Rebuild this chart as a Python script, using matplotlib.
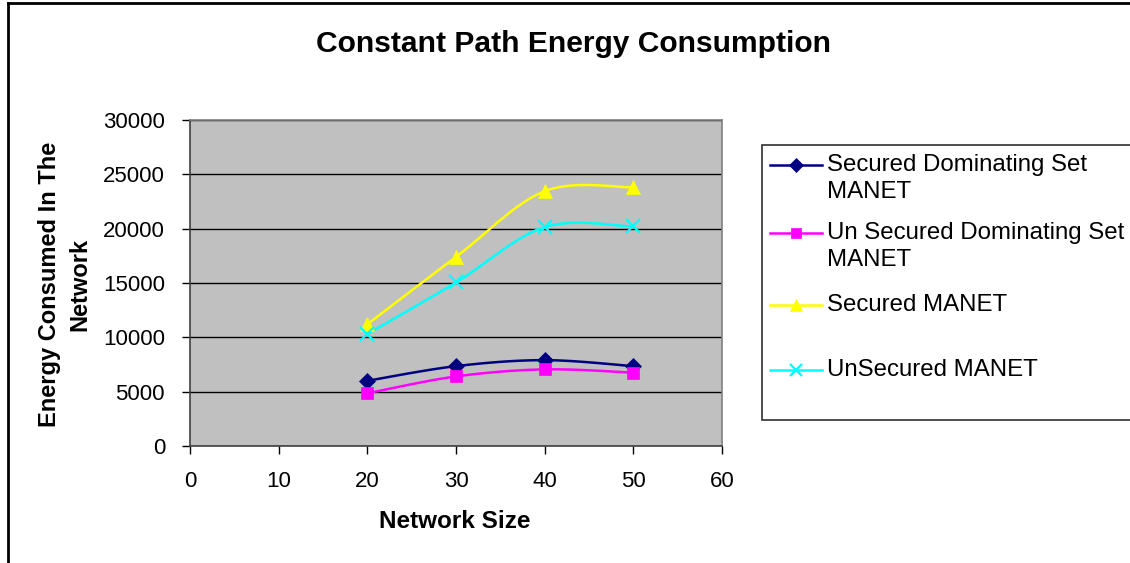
import numpy as np
import matplotlib
matplotlib.use("Agg")
import matplotlib.pyplot as plt
from matplotlib.lines import Line2D

# ---- data ----
network_size = [20, 30, 40, 50]
secured_ds = [6000, 7350, 7900, 7350]
unsecured_ds = [4850, 6400, 7050, 6750]
secured_manet = [11200, 17400, 23450, 23800]
unsecured_manet = [10300, 15050, 20150, 20200]

series_labels = ["Secured Dominating Set\nMANET",
                 "Un Secured Dominating Set\nMANET",
                 "Secured MANET",
                 "UnSecured MANET"]
series_values = [secured_ds, unsecured_ds, secured_manet, unsecured_manet]
series_colors = ["#000080", "#FF00FF", "#FFFF00", "#00FFFF"]
series_markers = ["D", "s", "^", "x"]
series_msize = [8, 8, 10, 10]

x_ticks = [0, 10, 20, 30, 40, 50, 60]
y_ticks = [0, 5000, 10000, 15000, 20000, 25000, 30000]

plt.rcParams['font.family'] = ['Liberation Sans', 'DejaVu Sans']


def smooth(x, y, n=40):
    """Excel-style smoothed line (Catmull-Rom Bezier) through the data points."""
    x = np.asarray(x, float)
    y = np.asarray(y, float)
    px = np.concatenate([[x[0]], x, [x[-1]]])
    py = np.concatenate([[y[0]], y, [y[-1]]])
    xs, ys = [], []
    t = np.linspace(0, 1, n)
    for i in range(1, len(px) - 2):
        p0 = np.array([px[i], py[i]])
        p3 = np.array([px[i + 1], py[i + 1]])
        c1 = p0 + (np.array([px[i + 1], py[i + 1]]) - np.array([px[i - 1], py[i - 1]])) / 6
        c2 = p3 - (np.array([px[i + 2], py[i + 2]]) - np.array([px[i], py[i]])) / 6
        b = ((1 - t) ** 3)[:, None] * p0 + (3 * (1 - t) ** 2 * t)[:, None] * c1 \
            + (3 * (1 - t) * t ** 2)[:, None] * c2 + (t ** 3)[:, None] * p3
        xs.extend(b[:, 0])
        ys.extend(b[:, 1])
    return np.array(xs), np.array(ys)


fig = plt.figure(figsize=(11.30, 5.63), dpi=100)
fig.patch.set_facecolor("white")
ax = fig.add_axes([190 / 1130, 1 - 446 / 563, 532 / 1130, 326 / 563])
ax.set_facecolor("#C0C0C0")

for vals, col, mk, ms in zip(series_values, series_colors, series_markers, series_msize):
    sx, sy = smooth(network_size, vals)
    ax.plot(sx, sy, color=col, lw=1.8, zorder=3)
    ax.plot(network_size, vals, linestyle="none", marker=mk, color=col,
            markersize=ms, markeredgewidth=1.6 if mk == "x" else 0.5, zorder=4)

ax.set_xlim(0, 60)
ax.set_ylim(0, 30000)
ax.set_xticks(x_ticks)
ax.set_yticks(y_ticks)
ax.set_xticklabels([str(v) for v in x_ticks])
ax.set_yticklabels([str(v) for v in y_ticks])
ax.tick_params(axis="both", direction="out", length=6, width=1,
               color="black")
ax.tick_params(axis="x", labelsize=16, pad=12)
ax.tick_params(axis="y", labelsize=16, pad=12)
ax.yaxis.grid(True, color="black", lw=1)
ax.set_axisbelow(True)
for s in ["left", "bottom"]:
    ax.spines[s].set_color("#404040")
    ax.spines[s].set_linewidth(1.2)
for s in ["right", "top"]:
    ax.spines[s].set_color("#808080")
    ax.spines[s].set_linewidth(1.2)

fig.text(574 / 1130, 1 - 44 / 563, "Constant Path Energy Consumption",
         ha="center", va="center", fontsize=21.6, fontweight="bold")
fig.text(455 / 1130, 1 - 522 / 563, "Network Size",
         ha="center", va="center", fontsize=17.5, fontweight="bold")
fig.text(65 / 1130, 1 - 284 / 563, "Energy Consumed In The\nNetwork",
         ha="center", va="center", rotation=90, fontsize=17, fontweight="bold",
         linespacing=1.4)

# figure frame (left and top edges)
fig.add_artist(Line2D([8 / 1130, 8 / 1130], [0, 1 - 3 / 563], color="black", lw=2,
                      transform=fig.transFigure))
fig.add_artist(Line2D([8 / 1130, 1], [1 - 3 / 563, 1 - 3 / 563], color="black", lw=2,
                      transform=fig.transFigure))

# legend box
lx0, ly0, lx1, ly1 = 762, 145, 1135, 420
fig.add_artist(plt.Rectangle((lx0 / 1130, 1 - ly1 / 563), (lx1 - lx0) / 1130,
                             (ly1 - ly0) / 563, transform=fig.transFigure,
                             facecolor="white", edgecolor="#303030", lw=1.2))
entry_y = [165, 233, 305, 370]
for lab, col, mk, ms, ey in zip(series_labels, series_colors, series_markers,
                                series_msize, entry_y):
    yy = 1 - ey / 563
    fig.add_artist(Line2D([770 / 1130, 822 / 1130], [yy, yy], color=col, lw=1.8,
                          transform=fig.transFigure))
    fig.add_artist(Line2D([796 / 1130], [yy], color=col, marker=mk, markersize=ms - 1,
                          markeredgewidth=1.6 if mk == "x" else 0.5,
                          linestyle="none", transform=fig.transFigure))
    for k, line in enumerate(lab.split("\n")):
        fig.text(827 / 1130, 1 - (ey + 27 * k) / 563, line, ha="left",
                 va="center", fontsize=17.3)

fig.savefig("out.png", dpi=100)
